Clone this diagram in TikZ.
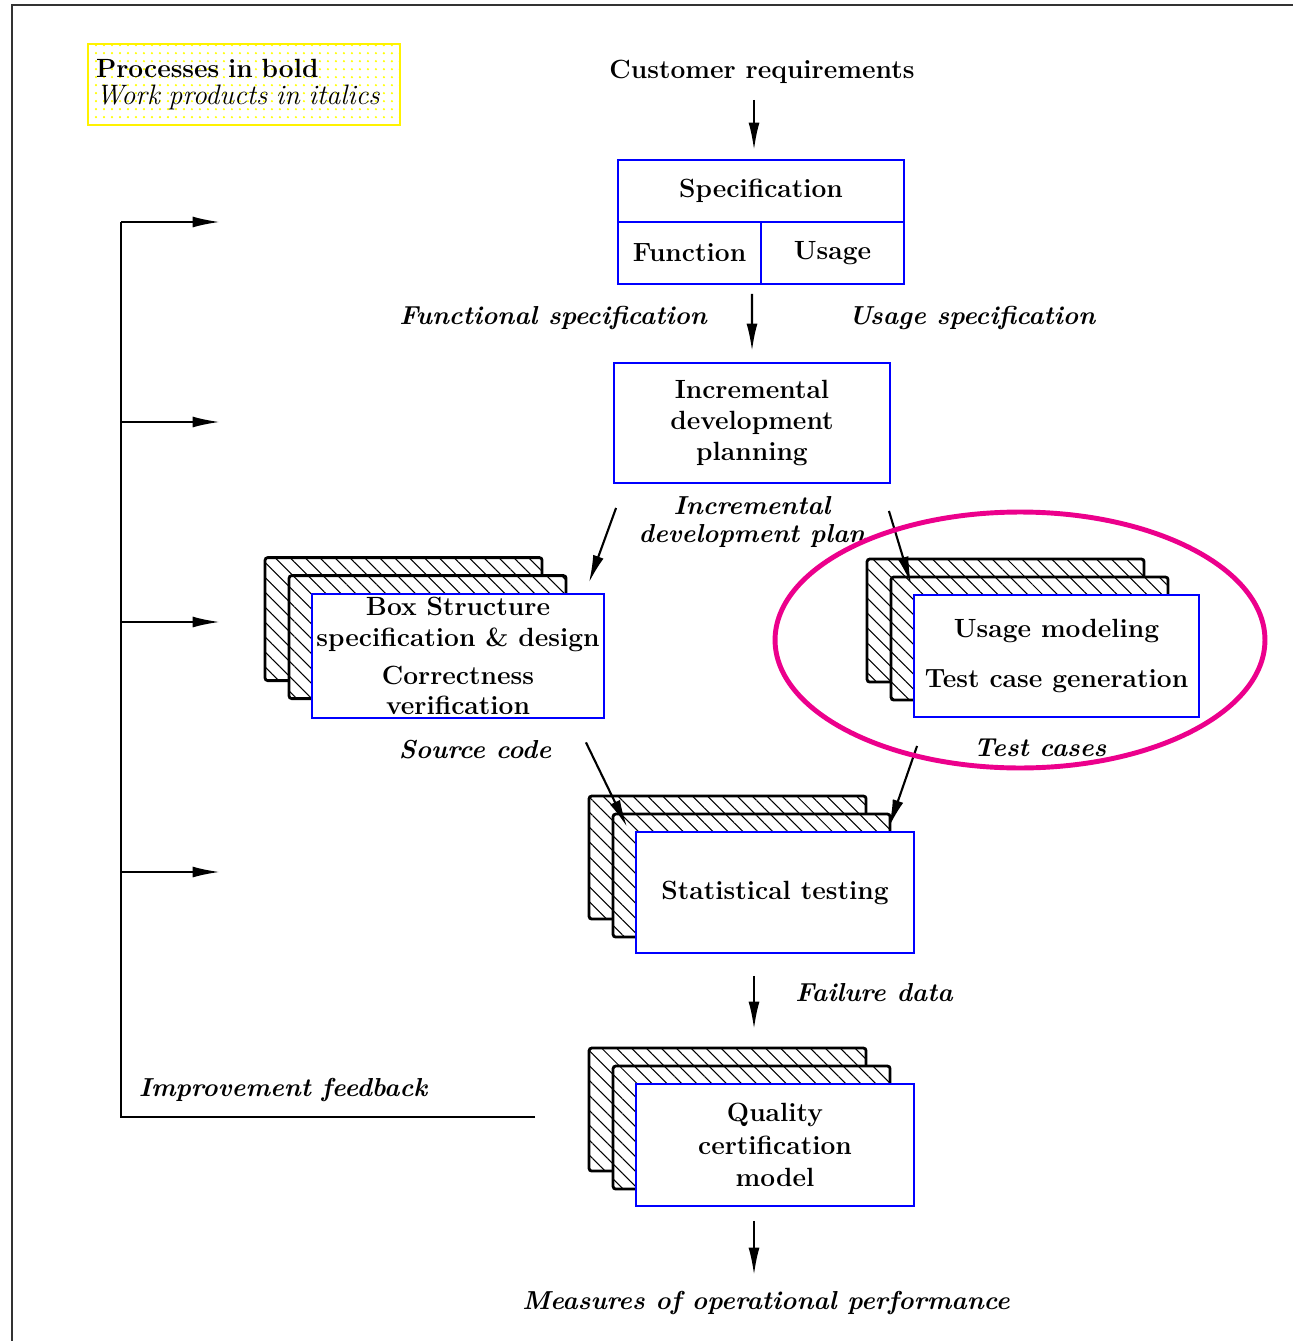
\documentclass[tikz,border=0pt]{standalone}
\usepackage{fontspec}
\usepackage{tikz}
\usetikzlibrary{arrows.meta, positioning, calc, backgrounds, patterns.meta, shapes.geometric}

\definecolor{procblue}{RGB}{0,0,255}
\definecolor{markpink}{RGB}{236,0,140}

% two hatched sheets behind a process box
\newcommand{\sheets}[1]{%
  \begin{scope}[on background layer]
    \draw[sheet] ($(#1.north west)+(-46,-35)$) rectangle ++(277,123);
    \draw[sheet] ($(#1.north west)+(-22,-17)$) rectangle ++(277,123);
  \end{scope}}

\begin{document}
\begin{tikzpicture}[
    x=0.02cm, y=-0.02cm,
    process/.style={rectangle, draw=procblue, line width=1.1pt, fill=white, align=center,
        font=\bfseries\fontsize{15}{17.5}\selectfont, inner sep=2pt},
    product/.style={font=\bfseries\itshape\fontsize{14.8}{15.5}\selectfont, align=center},
    sheet/.style={draw=black, line width=1.6pt, rounded corners=1.5pt,
        preaction={fill=white}, pattern={Lines[angle=-45, distance=6pt, line width=0.6pt]}},
    legend/.style={draw=yellow, line width=1.2pt, pattern={Dots[distance=0.16cm, radius=0.7pt]},
        pattern color=yellow, text width=5.92cm, inner xsep=0.16cm, minimum height=1.62cm,
        align=left, font=\fontsize{15}{15.4}\selectfont},
    arrow/.style={-{Latex[length=0.55cm, width=0.22cm]}, line width=1.2pt},
    line/.style={line width=1.2pt}
]

\useasboundingbox (0,0) rectangle (1293,1341);
\begin{scope}[on background layer]
    \fill[white] (0,0) rectangle (1293,1341);
\end{scope}

% Frame
\draw[line width=1.3pt, black!80] (12,1341) -- (12,5) -- (1293,5);

% Legend
\node[legend] (legend) at (244,84.5)
    {{\bfseries Processes in bold}\\{\itshape\fontsize{16}{15.4}\selectfont Work products in italics}};

% Specification
\node[font=\bfseries\fontsize{15}{17}\selectfont] (custreq) at (762,72) {Customer requirements};
\node[process, minimum width=5.72cm, minimum height=1.24cm, outer sep=0pt] (spectop) at (761,191) {Specification};
\node[process, minimum width=2.86cm, minimum height=1.24cm, outer sep=0pt, anchor=north west] (func) at (spectop.south west) {Function};
\node[process, minimum width=2.86cm, minimum height=1.24cm, outer sep=0pt, right=0pt of func] (usage) {Usage};

\node[product] (funcspec) at (553,318) {Functional specification};
\node[product] (usagespec) at (972,318) {Usage specification};

% Planning
\node[process, minimum width=5.52cm, minimum height=2.4cm] (incr) at (752,423) {Incremental\\development\\planning};
\node[product] (incrplan) at (752,522) {Incremental\\development plan};

% Development and certification
\node[process, minimum width=5.84cm, minimum height=2.44cm] (bsd) at (458,656)
    {Box Structure\\specification \& design\\[4pt]Correctness\\verification};
\node[process, minimum width=5.7cm, minimum height=2.44cm] (umt) at (1056.5,656)
    {Usage modeling\\[11pt]Test case generation};
\node[product] (source) at (475,750) {Source code};
\node[product] (testcases) at (1040,748) {Test cases};

\node[process, minimum width=5.56cm, minimum height=2.42cm] (stat) at (775,892.5) {Statistical testing};
\node[product] (failure) at (874,993) {Failure data};

\node[process, minimum width=5.56cm, minimum height=2.44cm] (qual) at (775,1145)
    {Quality\\[1pt]certification\\[1pt]model};
\node[product] (measures) at (766,1303) {Measures of operational performance};

\sheets{bsd}
\sheets{umt}
\sheets{stat}
\sheets{qual}

% Arrows
\draw[arrow] ($(custreq.south)+(-8,10)$) -- ($(spectop.north)+(-7,-10)$);
\draw[arrow] ($(func.south east)+(-9,10)$) -- ($(incr.north)+(0,-11)$);
\draw[arrow] ($(incr.south west)+(3,24)$) -- ($(bsd.north east)+(-16,-10)$);
\draw[arrow] ($(incr.south east)+(-2,27)$) -- ($(umt.north west)+(-2,-10)$);
\draw[arrow] ($(bsd.south east)+(-19,23)$) -- ($(stat.north west)+(-8,-4)$);
\draw[arrow] ($(umt.south west)+(4,28)$) -- ($(stat.north east)+(-26,-4)$);
\draw[arrow] ($(stat.south)+(-21,22)$) -- ($(qual.north)+(-21,-54)$);
\draw[arrow] ($(qual.south)+(-21,14)$) -- ($(measures.north)+(-12,-10)$);

% Feedback
\node[product] (feedback) at (283,1090) {Improvement feedback};
\coordinate (fbcorner) at (121,1117);
\coordinate (fbend) at (535,1117);
\foreach \y [count=\i] in {222,422,622,872} {
    \coordinate (fbs\i) at (121,\y);
    \coordinate (fbt\i) at (220,\y);
    \draw[arrow] (fbs\i) -- (fbt\i);
}
\draw[line] (fbend) -- (fbcorner) -- (fbs1);

% Highlight
\node[draw=markpink, line width=2.8pt, ellipse, minimum width=9.8cm, minimum height=5.12cm] (focus) at (1020,640) {};

\end{tikzpicture}
\end{document}
